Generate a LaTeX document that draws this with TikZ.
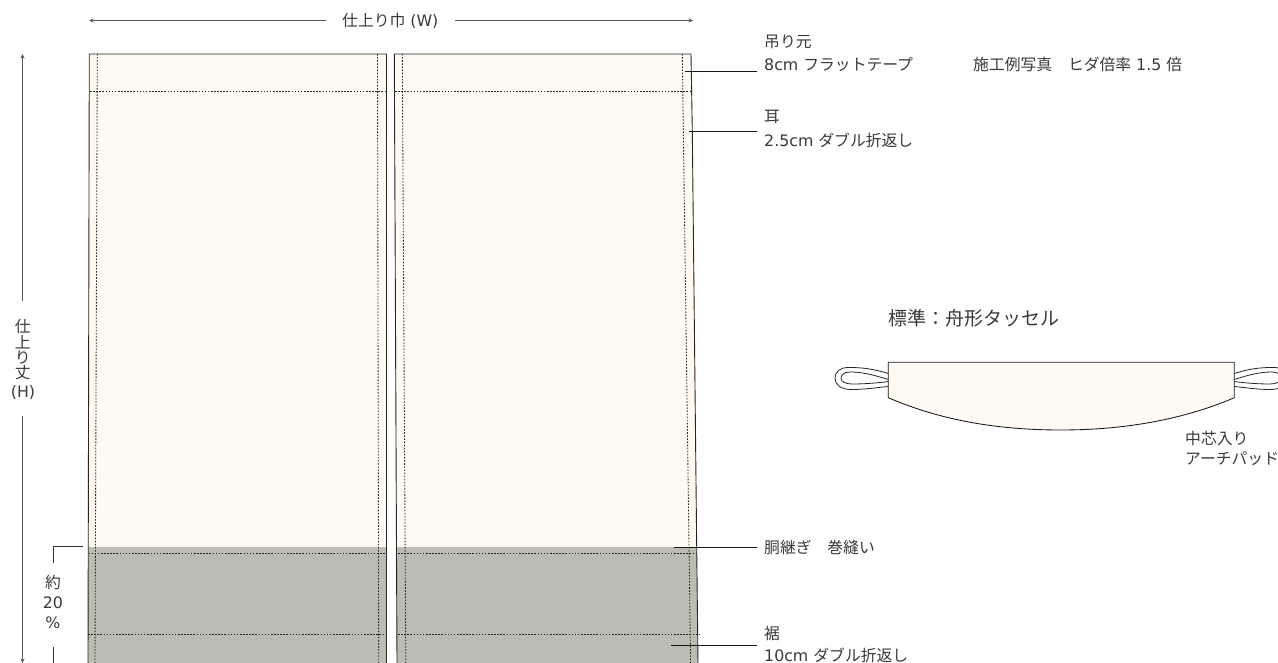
\documentclass[tikz,border=0pt]{standalone}
\usepackage{fontspec}
\setmainfont{DejaVu Sans}
\newfontfamily\cjk{Noto Sans CJK JP}
\usetikzlibrary{arrows.meta}
\definecolor{cream}{HTML}{FEF9F2}
\definecolor{hem}{HTML}{BCBCB3}
\definecolor{ink}{HTML}{3C3838}
\newcommand{\tj}[1]{{\cjk #1}}
\tikzset{
  x=1pt,y=-1pt,
  edge/.style={draw=black!85,line width=.9pt},
  seam/.style={draw=black!85,line width=.85pt,dash pattern=on 1.6pt off 1.5pt},
  leader/.style={draw=black!90,line width=.7pt},
  dim/.style={draw=black!65,line width=.9pt},
  dimarrow/.style={dim,{Stealth[length=4.5pt,width=4pt]}-},
  lbl/.style={anchor=west,inner sep=0pt,text=ink,font=\fontsize{15.8}{18}\selectfont},
  mid/.style={anchor=center,inner sep=0pt,text=ink,font=\fontsize{15.8}{18}\selectfont}
}
\begin{document}
\begin{tikzpicture}
\useasboundingbox (0,0) rectangle (1278,663);
\clip (0,0) rectangle (1278,663);
% left panel
\fill[cream] (89.3,54) -- (386.5,54) -- (386.5,547) -- (88.4,547) -- cycle;
\fill[hem] (88.4,547) -- (386.5,547) -- (386.5,663) -- (88,663) -- cycle;
\draw[edge] (88,663) -- (89.3,54) -- (386.5,54) -- (386.5,663);
% right panel
\fill[cream] (394.3,54) -- (691,54) -- (692.3,131) -- (696.7,547) -- (396.3,547) -- cycle;
\fill[hem] (396.3,547) -- (696.7,547) -- (698,663) -- (397,663) -- cycle;
\draw[edge] (397,663) -- (394.3,54) -- (691,54) -- (692.3,131) -- (696.7,547) -- (698,663);
% seams
\draw[seam] (97.3,54) -- (95,663);
\draw[seam] (377.5,54) -- (378.7,663);
\draw[seam] (402.3,54) -- (405.8,663);
\draw[seam] (682.3,54) -- (690.6,663);
\draw[seam] (90,91) -- (386,91);
\draw[seam] (395,91) -- (691.5,91);
\draw[seam] (88.5,553) -- (386.5,553);
\draw[seam] (398,553) -- (697,553);
\draw[seam] (88,634) -- (386.5,634);
\draw[seam] (398,634) -- (699,634);
% dimension width
\node[lbl] (wlabel) at (342,20.5) {\tj{仕上り巾} (W)};
\coordinate (wl) at (89,20.5);
\coordinate (wr) at (693,20.5);
\draw[dimarrow] (wl) -- (326,20.5);
\draw[dimarrow] (wr) -- (455,20.5);
% dimension height
\coordinate (ht) at (22.5,54);
\coordinate (hb) at (22.5,663);
\node[mid] (hlabel1) at (22.7,326) {\tj{仕}};
\node[mid] (hlabel2) at (22.7,342) {\tj{上}};
\node[mid] (hlabel3) at (22.7,357.5) {\tj{り}};
\node[mid] (hlabel4) at (22.7,373) {\tj{丈}};
\node[mid] (hlabel5) at (23,393) {(H)};
\draw[dimarrow] (ht) -- (22.5,301);
\draw[dimarrow] (hb) -- (22.5,416);
% 20 percent bracket
\node[mid] (p1) at (53,583) {\tj{約}};
\node[mid] (p2) at (53,602.5) {20};
\node[mid] (p3) at (53,622.5) {\%};
\draw[dim,draw=black!80] (83,546) -- (53.3,546) -- (53.3,563);
\draw[dim,draw=black!80] (53.3,647) -- (53.3,663);
% leaders
\node[lbl] (t1) at (764,42) {\tj{吊り元}};
\node[lbl] (t2) at (764,64.5) {8cm \tj{フラットテープ}};
\node[lbl] (t3) at (764,117) {\tj{耳}};
\node[lbl] (t4) at (764,140) {2.5cm \tj{ダブル折返し}};
\node[lbl] (t5) at (764,547) {\tj{胴継ぎ　巻縫い}};
\node[lbl] (t6) at (764,634) {\tj{裾}};
\node[lbl] (t7) at (764,655) {10cm \tj{ダブル折返し}};
\node[lbl] (t8) at (973,64.5) {\tj{施工例写真　ヒダ倍率} 1.5 \tj{倍}};
\coordinate (a1) at (685,71.7);
\coordinate (a2) at (689,131);
\coordinate (a3) at (674,547);
\coordinate (a4) at (671,645.7);
\draw[leader] (a1) -- (756.7,71.7);
\draw[leader] (a2) -- (756.7,131);
\draw[leader] (a3) -- (756.7,547);
\draw[leader] (a4) -- (756.7,645.7);
% tassel
\node[lbl,font=\fontsize{19}{22}\selectfont] (t9) at (888,318) {\tj{標準：舟形タッセル}};
\draw[fill=cream,draw=black!90,line width=.85pt] (888.3,362.3) -- (1234.3,362.3) -- (1234.3,397.7)
  .. controls (1180,421) and (1120,430) .. (1061,430)
  .. controls (1000,430) and (942,421) .. (888.3,397.7) -- cycle;
\draw[draw=black!85,line width=.8pt] (888.3,373.5) .. controls (870,368) and (860,367.5) .. (848,367.5)
  .. controls (840,367.5) and (835,372) .. (835,378)
  .. controls (835,385) and (841,389.5) .. (852,389.5)
  .. controls (865,389.5) and (877,387.5) .. (888.3,386.5);
\draw[draw=black!85,line width=.8pt] (888.3,379.5) .. controls (872,374.5) and (862,372) .. (850,372)
  .. controls (844,372) and (841,375) .. (841,378)
  .. controls (841,381.5) and (845,384) .. (852,384)
  .. controls (865,384) and (877,383) .. (888.3,381.5);
\draw[draw=black!85,line width=.8pt] (1234.3,373.5) .. controls (1252,368) and (1262,367.5) .. (1274,367.5)
  .. controls (1282,367.5) and (1287,372) .. (1287,378)
  .. controls (1287,385) and (1281,389.5) .. (1270,389.5)
  .. controls (1257,389.5) and (1245,387.5) .. (1234.3,386.5);
\draw[draw=black!85,line width=.8pt] (1234.3,379.5) .. controls (1250,374.5) and (1260,372) .. (1272,372)
  .. controls (1278,372) and (1281,375) .. (1281,378)
  .. controls (1281,381.5) and (1277,384) .. (1270,384)
  .. controls (1257,384) and (1245,383) .. (1234.3,381.5);
\node[lbl] (t10) at (1185,438) {\tj{中芯入り}};
\node[lbl] (t11) at (1185,459) {\tj{アーチパッド}};
\end{tikzpicture}
\end{document}
